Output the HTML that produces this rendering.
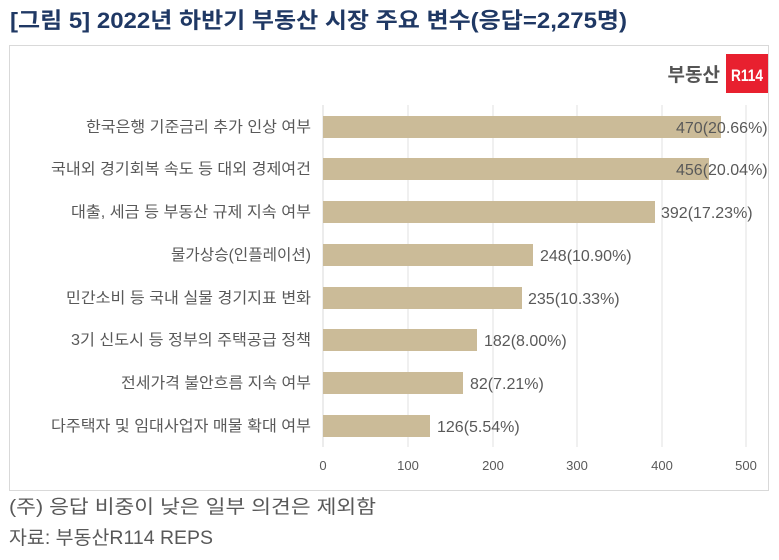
<!DOCTYPE html>
<html><head><meta charset="utf-8"><style>
body{margin:0;background:#fff;width:779px;height:555px;overflow:hidden;font-family:"Liberation Sans","Noto Sans CJK KR",sans-serif}
</style></head><body>
<svg width="779" height="555" xmlns="http://www.w3.org/2000/svg" font-family="'Liberation Sans','Noto Sans CJK KR',sans-serif">
<text x="10" y="28" font-size="22" font-weight="bold" fill="#1f3864" textLength="617" lengthAdjust="spacingAndGlyphs">[그림 5] 2022년 하반기 부동산 시장 주요 변수(응답=2,275명)</text>
<rect x="9.5" y="45.5" width="759" height="445" fill="#fff" stroke="#d9d9d9"/>
<g stroke="#e0e0e0" stroke-width="1">
<line x1="408" y1="105" x2="408" y2="447"/><line x1="493" y1="105" x2="493" y2="447"/>
<line x1="577" y1="105" x2="577" y2="447"/><line x1="662" y1="105" x2="662" y2="447"/>
<line x1="746" y1="105" x2="746" y2="447"/>
</g>
<line x1="323" y1="105" x2="323" y2="447" stroke="#d9d9d9"/>
<text x="720" y="81" font-size="19" font-weight="bold" fill="#555" text-anchor="end">부동산</text>
<rect x="726" y="54" width="42" height="39" fill="#e8202f"/>
<text x="747" y="81" font-size="17" font-weight="bold" fill="#fff" text-anchor="middle" textLength="32" lengthAdjust="spacingAndGlyphs">R114</text>
<g fill="#cbbb98">
<rect x="323" y="116" width="398" height="22"/>
<rect x="323" y="158" width="386" height="22"/>
<rect x="323" y="201" width="332" height="22"/>
<rect x="323" y="244" width="210" height="22"/>
<rect x="323" y="287" width="199" height="22"/>
<rect x="323" y="329" width="154" height="22"/>
<rect x="323" y="372" width="140" height="22"/>
<rect x="323" y="415" width="107" height="22"/>
</g>
<g font-size="15.5" fill="#595959" text-anchor="end">
<text x="311" y="132" textLength="225" lengthAdjust="spacingAndGlyphs">한국은행 기준금리 추가 인상 여부</text>
<text x="311" y="174" textLength="260" lengthAdjust="spacingAndGlyphs">국내외 경기회복 속도 등 대외 경제여건</text>
<text x="311" y="217" textLength="240" lengthAdjust="spacingAndGlyphs">대출, 세금 등 부동산 규제 지속 여부</text>
<text x="311" y="260" textLength="140" lengthAdjust="spacingAndGlyphs">물가상승(인플레이션)</text>
<text x="311" y="303" textLength="245" lengthAdjust="spacingAndGlyphs">민간소비 등 국내 실물 경기지표 변화</text>
<text x="311" y="345" textLength="240" lengthAdjust="spacingAndGlyphs">3기 신도시 등 정부의 주택공급 정책</text>
<text x="311" y="388" textLength="190" lengthAdjust="spacingAndGlyphs">전세가격 불안흐름 지속 여부</text>
<text x="311" y="431" textLength="260" lengthAdjust="spacingAndGlyphs">다주택자 및 임대사업자 매물 확대 여부</text>
</g>
<g font-size="16" fill="#595959">
<text x="676" y="133">470(20.66%)</text>
<text x="676" y="175">456(20.04%)</text>
<text x="661" y="218">392(17.23%)</text>
<text x="540" y="261">248(10.90%)</text>
<text x="528" y="304">235(10.33%)</text>
<text x="484" y="346">182(8.00%)</text>
<text x="470" y="389">82(7.21%)</text>
<text x="437" y="432">126(5.54%)</text>
</g>
<g font-size="13" fill="#595959" text-anchor="middle">
<text x="323" y="470">0</text><text x="408" y="470">100</text><text x="493" y="470">200</text>
<text x="577" y="470">300</text><text x="662" y="470">400</text><text x="746" y="470">500</text>
</g>
<text x="9" y="513" font-size="19" fill="#595959" textLength="367" lengthAdjust="spacingAndGlyphs">(주) 응답 비중이 낮은 일부 의견은 제외함</text>
<text x="9" y="544" font-size="19" fill="#595959" textLength="204" lengthAdjust="spacingAndGlyphs">자료: 부동산R114 REPS</text>
</svg>
</body></html>
